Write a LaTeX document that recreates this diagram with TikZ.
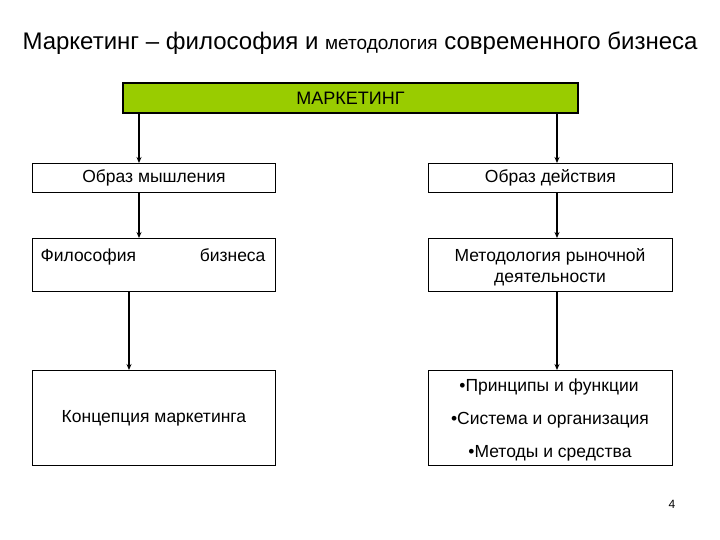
\documentclass[tikz,border=0pt]{standalone}
\usepackage{fontspec}
\setmainfont{Liberation Sans}
\usetikzlibrary{arrows.meta}
\definecolor{mkgreen}{RGB}{153,204,0}
\begin{document}
\begin{tikzpicture}[x=1pt,y=-1pt,
  box/.style={draw=black,line width=0.8pt,fill=white,inner sep=0pt,anchor=north west},
  conn/.style={line width=1.3pt,-{Stealth[length=6pt,width=5pt]}},
  txt/.style={font=\fontsize{17.5}{21}\selectfont}]
\useasboundingbox (0,0) rectangle (720,540);
\node[font=\fontsize{24}{28}\selectfont,anchor=base] (title) at (360,50)
  {Маркетинг – философия и {\fontsize{19}{22}\selectfont методология} современного бизнеса};
\node[draw=black,line width=2pt,fill=mkgreen,minimum width=455pt,minimum height=30pt,inner sep=0pt,
  font=\fontsize{18}{21}\selectfont,anchor=north west] (m) at (122,82) {МАРКЕТИНГ};
\node[box,txt,minimum width=243pt,minimum height=29pt] (om) at (32,163) {Образ мышления};
\node[box,txt,minimum width=244pt,minimum height=29pt] (od) at (428,163) {Образ действия};
\node[box,minimum width=243pt,minimum height=53pt] (fb) at (32,238) {};
\node[txt,anchor=base west] (fb1) at (37,261) {Философия};
\node[txt,anchor=base east] (fb2) at (269,261) {бизнеса};
\node[box,minimum width=244pt,minimum height=53pt] (mr) at (428,238) {};
\node[txt,anchor=base] (mr1) at (550,261) {Методология рыночной};
\node[txt,anchor=base] (mr2) at (550,282) {деятельности};
\node[box,txt,minimum width=243pt,minimum height=95pt] (km) at (32,370) {Концепция маркетинга};
\node[box,minimum width=244pt,minimum height=95pt] (pf) at (428,370) {};
\node[txt,anchor=base] (p1) at (549,391) {•Принципы и функции};
\node[txt,anchor=base] (p2) at (550,424) {•Система и организация};
\node[txt,anchor=base] (p3) at (550,457) {•Методы и средства};
\node[font=\fontsize{12}{14}\selectfont,anchor=base] (pg) at (672,508) {4};
\draw[conn] (m.south west -| 139,0) -- (om.north west -| 139,0);
\draw[conn] (m.south west -| 557,0) -- (od.north west -| 557,0);
\draw[conn] (om.south west -| 139,0) -- (fb.north west -| 139,0);
\draw[conn] (od.south west -| 557,0) -- (mr.north west -| 557,0);
\draw[conn] (fb.south west -| 129,0) -- (km.north west -| 129,0);
\draw[conn] (mr.south west -| 557,0) -- (pf.north west -| 557,0);
\end{tikzpicture}
\end{document}
